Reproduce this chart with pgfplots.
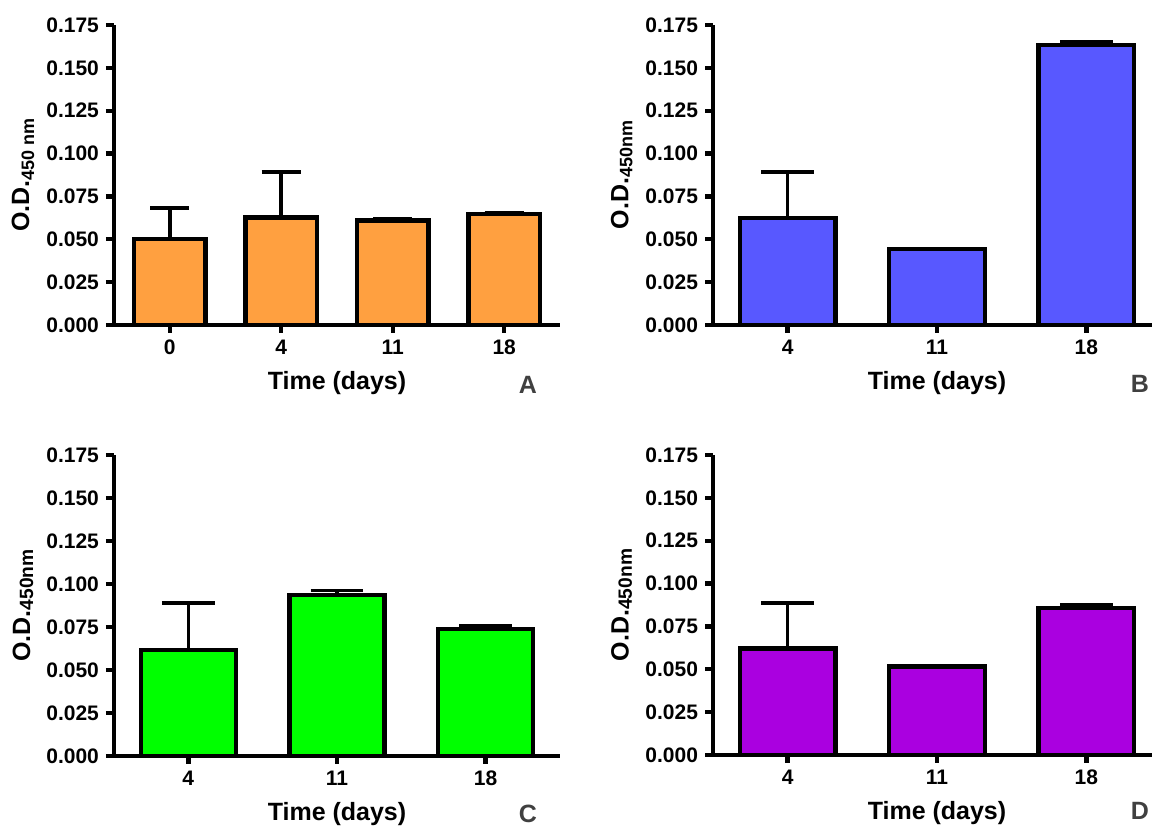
\documentclass[border=0pt]{standalone}
\usepackage{fontspec}
\setmainfont{Liberation Sans}
\usepackage{pgfplots}
\usepackage{pgfplotstable}
\pgfplotsset{compat=1.18}

\definecolor{barA}{RGB}{255,160,64}
\definecolor{barB}{RGB}{88,88,255}
\definecolor{barC}{RGB}{0,255,0}
\definecolor{barD}{RGB}{170,0,224}

% optical density at 450 nm: mean and upper error per time point
\pgfplotstableread{
x v e
0 0.0503 0.0180
1 0.0627 0.0266
2 0.0610 0.0010
3 0.0649 0.0008
}\dataA
\pgfplotstableread{
x v e
0 0.0623 0.0270
1 0.0445 0.0000
2 0.1634 0.0017
}\dataB
\pgfplotstableread{
x v e
0 0.0617 0.0273
1 0.0937 0.0026
2 0.0737 0.0019
}\dataC
\pgfplotstableread{
x v e
0 0.0621 0.0267
1 0.0517 0.0000
2 0.0858 0.0019
}\dataD

\newcommand{\odsub}[3]{\raisebox{-#3}{\fontsize{#1}{#1}\selectfont #2}}

\pgfplotsset{
  odpanel/.style={
    scale only axis,
    anchor=south west,
    axis x line*=bottom,
    axis y line*=left,
    axis line style={-, line width=2.3pt},
    ymin=0, ymax=0.175,
    ytick={0,0.025,0.05,0.075,0.1,0.125,0.15,0.175},
    yticklabels={0.000,0.025,0.050,0.075,0.100,0.125,0.150,0.175},
    xtick=data,
    tick align=outside,
    major tick length=4pt,
    tick style={line width=2.2pt, black},
    ticklabel style={font=\bfseries\fontsize{10.5}{12}\selectfont},
    xlabel={Time (days)},
    xlabel style={font=\bfseries\fontsize{12.5}{14}\selectfont,
      at={(axis description cs:0.5,0)}, anchor=center, yshift=-29pt},
    ylabel style={font=\bfseries\fontsize{12.5}{14}\selectfont,
      at={(axis description cs:-0.204,0.5)}, anchor=center},
    ybar, bar width=0.64,
    clip=false,
  },
  odbars/.style 2 args={
    fill=#1, draw=black, line width=2.2pt,
    error bars/y dir=plus,
    error bars/y explicit,
    error bars/error bar style={line width=1.8pt, black},
    error bars/error mark options={rotate=90, mark size=#2, line width=1.8pt, black},
  },
}

\begin{document}
\begin{tikzpicture}
\useasboundingbox (0,0) rectangle (576pt,414.5pt);

% A
\begin{axis}[odpanel, at={(57pt,252pt)}, width=223pt, height=150pt,
  xmin=-0.5, xmax=3.5, xticklabels={0,4,11,18},
  ylabel={O.D.\odsub{9}{450 nm}{2.5pt}}]
\addplot[odbars={barA}{9.75pt}] table[x=x, y=v, y error=e] {\dataA};
\end{axis}

% B
\begin{axis}[odpanel, at={(356.5pt,252pt)}, width=224pt, height=150pt,
  xmin=-0.5, xmax=2.5, xticklabels={4,11,18},
  ylabel={O.D.\odsub{9}{450nm}{2pt}}]
\addplot[odbars={barB}{13.2pt}] table[x=x, y=v, y error=e] {\dataB};
\end{axis}

% C
\begin{axis}[odpanel, at={(57pt,36.5pt)}, width=223pt, height=150.5pt,
  xmin=-0.5, xmax=2.5, xticklabels={4,11,18},
  ylabel={O.D.\odsub{9.6}{450nm}{1.5pt}}]
\addplot[odbars={barC}{13.2pt}] table[x=x, y=v, y error=e] {\dataC};
\end{axis}

% D
\begin{axis}[odpanel, at={(356.5pt,37pt)}, width=224pt, height=150pt,
  xmin=-0.5, xmax=2.5, xticklabels={4,11,18},
  ylabel={O.D.\odsub{9.6}{450nm}{1.5pt}}]
\addplot[odbars={barD}{13.2pt}] table[x=x, y=v, y error=e] {\dataD};
\end{axis}

% panel letters
\begin{scope}[every node/.style={font=\bfseries\fontsize{12.5}{14}\selectfont, text=black!75}]
\node at (264pt,222pt) {A};
\node at (570pt,222.5pt) {B};
\node at (264pt,7.5pt) {C};
\node at (570pt,9pt) {D};
\end{scope}
\end{tikzpicture}
\end{document}
